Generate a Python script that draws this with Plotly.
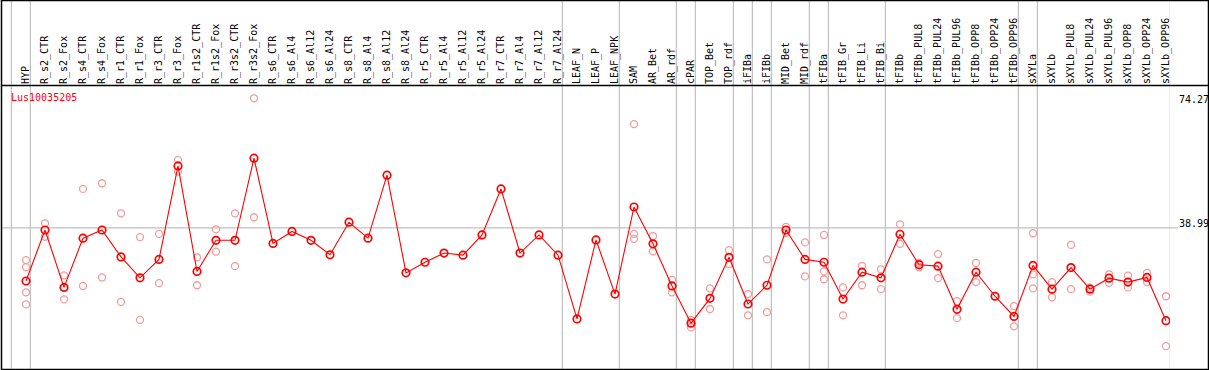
import plotly.graph_objects as go

categories = [
    "HYP", "R_s2_CTR", "R_s2_Fox", "R_s4_CTR", "R_s4_Fox", "R_r1_CTR", "R_r1_Fox",
    "R_r3_CTR", "R_r3_Fox", "R_r1s2_CTR", "R_r1s2_Fox", "R_r3s2_CTR", "R_r3s2_Fox",
    "R_s6_CTR", "R_s6_Al4", "R_s6_Al12", "R_s6_Al24", "R_s8_CTR", "R_s8_Al4",
    "R_s8_Al12", "R_s8_Al24", "R_r5_CTR", "R_r5_Al4", "R_r5_Al12", "R_r5_Al24",
    "R_r7_CTR", "R_r7_Al4", "R_r7_Al12", "R_r7_Al24", "LEAF_N", "LEAF_P", "LEAF_NPK",
    "SAM", "AR_Bet", "AR_rdf", "cPAR", "TOP_Bet", "TOP_rdf", "iFIBa", "iFIBb",
    "MID_Bet", "MID_rdf", "tFIBa", "tFIB_Gr", "tFIB_Li", "tFIB_Bi", "tFIBb",
    "tFIBb_PUL8", "tFIBb_PUL24", "tFIBb_PUL96", "tFIBb_OPP8", "tFIBb_OPP24",
    "tFIBb_OPP96", "sXYLa", "sXYLb", "sXYLb_PUL8", "sXYLb_PUL24", "sXYLb_PUL96",
    "sXYLb_OPP8", "sXYLb_OPP24", "sXYLb_OPP96",
]

mean_values = [
    24.0, 38.4, 22.2, 36.1, 38.4, 30.8, 24.9, 30.1, 56.5, 26.7, 35.5, 35.5, 58.7,
    34.6, 38.0, 35.5, 31.4, 40.6, 36.1, 53.9, 26.3, 29.3, 31.9, 31.3, 37.0, 50.0,
    31.9, 37.0, 31.3,
    13.3, 35.6, 20.3, 44.9, 34.5, 22.6, 12.1, 19.1, 30.7, 17.5, 22.8, 38.4, 30.1,
    29.3, 18.9, 26.5, 24.9,
    37.2, 28.6, 28.2, 16.0, 26.5, 19.7, 14.0, 28.4, 21.7, 27.8, 21.7, 24.8, 23.7,
    25.0, 12.8,
]

replicates = [
    [29.9, 27.9, 20.8, 17.4], [40.3, 36.5], [25.6, 22.2, 18.8], [50.0, 22.6],
    [51.6, 25.0], [43.1, 18.1], [36.4, 13.0], [37.3, 23.4], [58.2, 54.9],
    [30.7, 22.8], [38.6, 32.3], [43.1, 28.2], [75.6, 42.0],
    [], [], [], [], [], [], [], [], [], [], [], [], [], [], [], [],
    [], [], [],
    [68.3, 37.3, 35.9], [36.7, 32.4], [24.3, 20.8], [13.0, 10.9], [21.9, 16.1],
    [32.7, 28.8], [20.3, 14.3], [30.1, 15.2], [39.3, 37.6], [34.9, 25.3],
    [37.0, 26.7, 24.5], [22.2, 14.3], [28.3, 22.8], [27.3, 21.7],
    [40.0, 34.5], [29.1, 27.9], [31.6, 24.8], [18.3, 13.5], [29.1, 23.7], [19.7],
    [16.9, 11.2], [37.5, 25.9, 21.9], [23.7, 19.4], [34.2, 21.7], [22.1, 21.0],
    [25.9, 23.5], [25.5, 22.2], [26.3, 23.7], [19.7, 5.6],
]

# group separators are drawn after these category indices
separators_after = [-1, 0, 28, 31, 34, 35, 37, 38, 39, 41, 42, 45, 52, 53, 60]

y_ticks = [38.99, 74.27]
gene_name = "Lus10035205"

W, H = 1209, 370
ML, MR, MT, MB = 1, 39, 86, 1
PW = W - ML - MR
PH = H - MT - MB


def px(p):
    return (p - ML) / PW


def py(q):
    return (H - MB - q) / PH


x_idx = list(range(len(categories)))
rx, ry = [], []
for i, reps in enumerate(replicates):
    for v in reps:
        rx.append(i)
        ry.append(v)

FONT = "DejaVu Sans Mono"

fig = go.Figure()
fig.add_trace(go.Scatter(
    x=rx, y=ry, mode="markers",
    marker=dict(symbol="circle-open", size=7, color="#F09C9C", line=dict(width=1.3)),
    hoverinfo="skip", showlegend=False,
))
fig.add_trace(go.Scatter(
    x=x_idx, y=mean_values, mode="lines+markers",
    line=dict(color="#FF0000", width=1.1),
    marker=dict(symbol="circle-open", size=7.5, color="#FF0000", line=dict(width=1.7)),
    showlegend=False,
))
# invisible trace for second y axis (tick "0")
fig.add_trace(go.Scatter(x=[0], y=[0], yaxis="y2", mode="markers",
                         marker=dict(opacity=0), hoverinfo="skip", showlegend=False))

shapes = []
for s in separators_after:
    shapes.append(dict(type="line", xref="x", yref="paper", x0=s + 0.23, x1=s + 0.23,
                       y0=0, y1=py(0), line=dict(color="#C0C0C0", width=1.2), layer="below"))
shapes.append(dict(type="line", xref="paper", yref="y", x0=0, x1=px(1178),
                   y0=y_ticks[0], y1=y_ticks[0], line=dict(color="#C0C0C0", width=1.2),
                   layer="below"))
# borders
shapes.append(dict(type="rect", xref="paper", yref="paper", x0=px(1.5), x1=px(1208.5),
                   y0=py(369.5), y1=py(0.5), line=dict(color="black", width=1.5)))
shapes.append(dict(type="line", xref="paper", yref="paper", x0=px(1), x1=px(1208),
                   y0=py(85.5), y1=py(85.5), line=dict(color="black", width=1.5)))

fig.update_layout(
    width=W, height=H,
    margin=dict(l=ML, r=MR, t=MT, b=MB, pad=0),
    paper_bgcolor="white", plot_bgcolor="white",
    font=dict(family=FONT, size=10, color="black"),
    shapes=shapes,
    annotations=[dict(text=gene_name, xref="paper", yref="paper", x=px(9), y=py(97),
                      xanchor="left", yanchor="middle", showarrow=False,
                      font=dict(family=FONT, size=10, color="#FF0000"))],
    xaxis=dict(range=[-25 / 19, 1144 / 19], side="top", tickmode="array",
               tickvals=x_idx, ticktext=categories, tickangle=-90,
               tickfont=dict(family=FONT, size=10, color="black"),
               showgrid=False, zeroline=False, showline=False, ticks="",
               ticklabelstandoff=1, fixedrange=True),
    yaxis=dict(range=[-0.85, 79.07], side="right", tickmode="array",
               tickvals=y_ticks, ticktext=["38.99", "74.27"],
               tickfont=dict(family=FONT, size=10, color="black"),
               showgrid=False, zeroline=False, showline=False, ticks="",
               ticklabelstandoff=8, ticklabelshift=-4),
    yaxis2=dict(range=[-0.85, 79.07], side="right", overlaying="y", tickmode="array",
                tickvals=[0], ticktext=["0"],
                tickfont=dict(family=FONT, size=10, color="black"),
                showgrid=False, zeroline=False, showline=False, ticks="",
                ticklabelstandoff=8, ticklabelshift=4),
)

fig.write_html(
    "out.html",
    config={"displayModeBar": False, "staticPlot": True},
    post_script="document.body.style.margin='0';document.body.style.padding='0';"
                "document.body.style.overflow='hidden';",
)
